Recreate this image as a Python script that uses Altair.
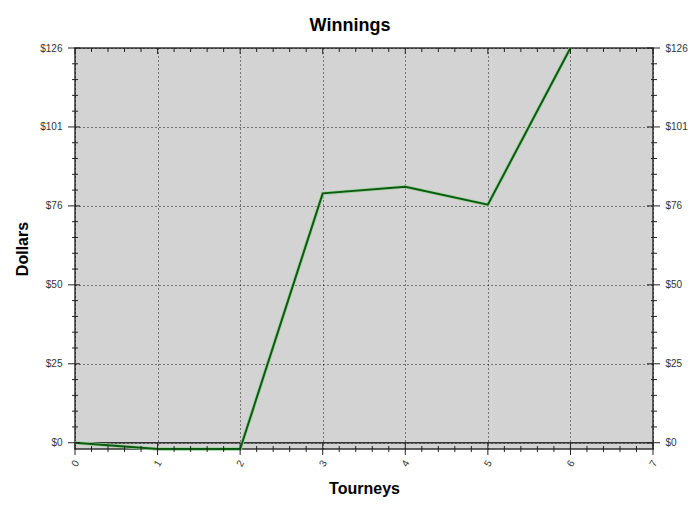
import json
import altair as alt
import pandas as pd

# ---- data ----
tourneys = [0, 1, 2, 3, 4, 5, 6]
dollars = [0, -2, -2, 79.6, 81.7, 76.0, 126]

y_tick_values = [0, 25.2, 50.4, 75.6, 100.8, 126]
y_tick_labels = ["$0", "$25", "$50", "$76", "$101", "$126"]
x_tick_values = [0, 1, 2, 3, 4, 5, 6, 7]
y_minor_values = [round(k * 5.04, 2) for k in range(26) if k % 5]
x_minor_values = [k / 5 for k in range(36) if k % 5]

W, H = 578, 401
Y_DOMAIN = [-2, 126]
X_DOMAIN = [0, 7]
FONT = "Liberation Sans"

df = pd.DataFrame({"Tourneys": tourneys, "Dollars": dollars})
ymaj = pd.DataFrame({"v": y_tick_values})
ymin = pd.DataFrame({"v": y_minor_values})
xmaj = pd.DataFrame({"v": x_tick_values})
xmin = pd.DataFrame({"v": x_minor_values})
zero = pd.DataFrame({"v": [0]})

xs = alt.Scale(domain=X_DOMAIN, nice=False, zero=False)
ys = alt.Scale(domain=Y_DOMAIN, nice=False, zero=False)

label_expr = f"{json.dumps(y_tick_labels)}[indexof({json.dumps(y_tick_values)}, datum.value)]"

left_axis = alt.Axis(
    orient="left", values=y_tick_values, labelExpr=label_expr, title="Dollars",
    grid=True, gridDash=[1, 3], gridColor="#000", gridOpacity=0.9, ticks=False, domain=False,
    labelPadding=13, titleX=-53, titleY=H / 2, titleAngle=270,
    titleAlign="center", titleBaseline="middle",
)
right_axis = alt.Axis(
    orient="right", values=y_tick_values, labelExpr=label_expr, title=None,
    grid=False, ticks=False, domain=False, labelPadding=12,
)
x_axis = alt.Axis(
    values=x_tick_values, title="Tourneys", grid=True, gridDash=[1, 3], gridColor="#000",
    gridOpacity=0.9, ticks=False, domain=False, labelAngle=300, labelAlign="center",
    labelBaseline="middle", labelPadding=14, format="d",
    titleX=W / 2, titleY=39, titleBaseline="middle",
)


def X(field):
    return alt.X(field, type="quantitative", scale=xs, axis=x_axis)


zero_rule = alt.Chart(zero).mark_rule(color="#333", strokeWidth=1.5).encode(
    y=alt.Y("v:Q", scale=ys, axis=None)
)

halo = alt.Chart(df).mark_line(color="#9fd19f", strokeWidth=3.6).encode(
    x=X("Tourneys"),
    y=alt.Y("Dollars:Q", scale=ys, axis=left_axis),
)
line = alt.Chart(df).mark_line(color="#0d5a12", strokeWidth=2).encode(
    x=X("Tourneys"),
    y=alt.Y("Dollars:Q", scale=ys, axis=right_axis),
)

tick_color = "#222"
left_major = alt.Chart(ymaj).mark_rule(color=tick_color).encode(
    y=alt.Y("v:Q", scale=ys, axis=None), x=alt.value(-7), x2=alt.value(5))
left_minor = alt.Chart(ymin).mark_rule(color=tick_color).encode(
    y=alt.Y("v:Q", scale=ys, axis=None), x=alt.value(-3), x2=alt.value(3))
right_major = alt.Chart(ymaj).mark_rule(color=tick_color).encode(
    y=alt.Y("v:Q", scale=ys, axis=None), x=alt.value(W - 6), x2=alt.value(W + 7))
right_minor = alt.Chart(ymin).mark_rule(color=tick_color).encode(
    y=alt.Y("v:Q", scale=ys, axis=None), x=alt.value(W - 2), x2=alt.value(W + 4))
bottom_major = alt.Chart(xmaj).mark_rule(color=tick_color).encode(
    x=X("v"), y=alt.value(H - 6), y2=alt.value(H + 6))
bottom_minor = alt.Chart(xmin).mark_rule(color=tick_color).encode(
    x=X("v"), y=alt.value(H - 3), y2=alt.value(H + 3))
top_major = alt.Chart(xmaj).mark_rule(color=tick_color).encode(
    x=X("v"), y=alt.value(0), y2=alt.value(6))
top_minor = alt.Chart(xmin).mark_rule(color=tick_color).encode(
    x=X("v"), y=alt.value(0), y2=alt.value(4))

chart = alt.layer(
    zero_rule, halo, line,
    left_major, left_minor, right_major, right_minor,
    bottom_major, bottom_minor, top_major, top_minor,
).resolve_axis(y="independent").properties(
    width=W, height=H,
    autosize=alt.AutoSizeParams(type="none"),
    padding={"left": 67, "top": 40, "right": 38, "bottom": 50},
    title=alt.TitleParams("Winnings", font=FONT, fontSize=18, fontWeight="bold",
                          color="#000", anchor="middle", dx=-14, offset=6),
).configure_view(
    fill="#D3D3D3", stroke="#333", strokeWidth=1.5
).configure_axis(
    labelFont=FONT, labelFontSize=10, labelColor="#333",
    titleFont=FONT, titleFontSize=16, titleFontWeight="bold", titleColor="#000",
)

chart.save("out.html", embed_options={"renderer": "svg", "actions": False})
